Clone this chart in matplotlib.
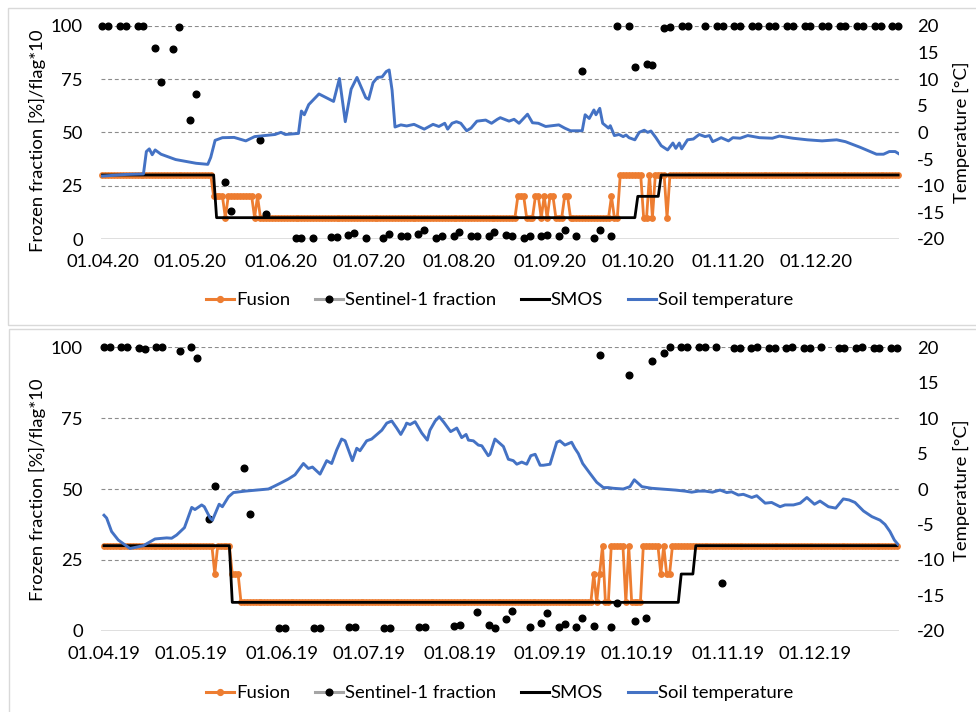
import numpy as np
import matplotlib
matplotlib.use("Agg")
import matplotlib.pyplot as plt
import matplotlib.dates as mdates
from matplotlib.lines import Line2D
from matplotlib.patches import Rectangle
import datetime as dt

plt.rcParams['font.family'] = ['Lato', 'DejaVu Sans']
plt.rcParams['axes.unicode_minus'] = False

# ---------------- data (days counted from 1 April of each year) ----------------
tick_labels_2020 = ['01.04.20', '01.05.20', '01.06.20', '01.07.20', '01.08.20',
                    '01.09.20', '01.10.20', '01.11.20', '01.12.20']
tick_labels_2019 = ['01.04.19', '01.05.19', '01.06.19', '01.07.19', '01.08.19',
                    '01.09.19', '01.10.19', '01.11.19', '01.12.19']

s1_days_2020 = [0, 2, 6, 8, 12, 14, 18, 20, 24, 26, 30, 32, 42, 44, 54, 56, 66, 68, 72, 78,
                80, 84, 86, 90, 96, 98, 102, 104, 108, 110, 114, 116, 120, 122, 126, 128, 132, 134, 138, 140,
                144, 146, 150, 152, 156, 158, 162, 164, 168, 170, 174, 176, 180, 182, 186, 188, 192, 194, 198, 200,
                206, 210, 212, 216, 218, 222, 224, 228, 230, 234, 236, 240, 242, 246, 248, 252, 254, 258, 260, 264,
                266, 270, 272]
s1_vals_2020 = [100, 100, 100, 100, 100, 100, 89.7, 73.5, 89.2, 99.2, 55.9, 68.1, 26.9, 13.0, 46.6, 11.6, 0.6, 0.5, 0.7, 1.0,
                1.1, 2.0, 2.7, 0.6, 0.6, 2.2, 1.2, 1.2, 2.5, 4.1, 0.7, 1.2, 1.2, 3.1, 1.5, 1.6, 1.2, 3.5, 1.9, 1.6,
                0.5, 1.3, 1.6, 2.1, 1.3, 4.2, 1.2, 78.9, 0.7, 4.2, 1.3, 100, 100, 80.8, 82.2, 81.7, 98.8, 99.6, 100, 100,
                100, 100, 100, 100, 100, 100, 100, 100, 100, 100, 100, 100, 100, 100, 100, 100, 100, 100, 100, 100,
                100, 100, 100]

fusion_change_days_2020 = [0, 38, 42, 43, 52, 53, 54, 142, 145, 148, 150, 151, 152, 153, 155, 158, 160,
                           174, 175, 177, 185, 187, 188, 189, 193, 194]
fusion_change_vals_2020 = [30, 20, 10, 20, 10, 20, 10, 20, 10, 20, 10, 20, 10, 20, 10, 20, 10,
                           20, 10, 30, 10, 30, 10, 30, 10, 30]
smos_change_days_2020 = [0, 39, 183, 191]
smos_change_vals_2020 = [30, 10, 20, 30]

temp_days_2020 = [0, 8, 14, 15, 16, 17, 18, 20, 25, 32, 36, 37, 38.5, 41, 45, 49, 52, 59, 61, 62.5,
                  67, 68, 69, 70.5, 74, 79, 81, 83, 85, 87, 90, 91, 92.5, 94, 95.6, 97, 98, 99, 100, 102,
                  104, 106.5, 110, 113, 115, 117, 118, 119.5, 121, 122.5, 124.5, 126, 128, 131, 133, 135, 136, 139, 140.7, 142.4,
                  145.3, 147, 149, 151.5, 156, 158, 160, 164, 165, 166.4, 168, 168.7, 170, 171, 173, 173.6, 175, 176.6, 178, 179,
                  180, 182, 183.5, 185.2, 186.4, 187.5, 189.2, 191, 193.2, 195, 196, 197.2, 198, 200, 202, 204, 206, 207.5, 208.6, 210,
                  211.5, 214, 215.5, 218, 220.6, 224.6, 229, 231.4, 236, 241, 246, 251, 254, 259, 264.6, 267, 269, 271, 272.5]
temp_vals_2020 = [-8.2, -7.9, -7.8, -3.6, -3.1, -4.2, -3.3, -4.1, -5.1, -5.8, -6.0, -4.7, -1.5, -1.0, -0.95, -1.6, -0.8, -0.4, 0.0, -0.4,
                  -0.2, 4.0, 3.3, 5.2, 7.2, 5.8, 10.1, 2.0, 8.1, 10.3, 6.5, 6.2, 9.3, 10.3, 10.4, 11.4, 11.7, 7.9, 1.0, 1.4,
                  1.2, 1.5, 0.6, 1.5, 1.1, 1.7, 0.6, 1.7, 2.0, 1.7, 0.3, 0.8, 2.1, 2.3, 1.7, 2.45, 2.75, 2.1, 2.45, 1.7,
                  3.4, 1.8, 1.7, 1.1, 1.4, 0.8, 0.3, 0.3, 3.3, 2.6, 4.2, 3.3, 4.5, 1.7, 0.8, 1.25, -0.6, -0.4, -0.8, -0.5,
                  -1.0, -1.4, 0.0, 0.4, 0.0, 0.25, -1.0, -2.5, -3.3, -2.0, -3.0, -2.0, -3.1, -1.4, -1.25, -0.4, -0.8, -0.6, -1.75, -1.4,
                  -1.0, -1.6, -1.0, -1.1, -0.6, -1.0, -1.1, -0.7, -1.1, -1.4, -1.6, -1.4, -1.75, -2.8, -4.1, -4.1, -3.6, -3.6, -4.1]

s1_days_2019 = [0, 2, 6, 8, 12, 14, 18, 20, 26, 30, 32, 36, 38, 48, 50, 60, 62, 72, 74, 84,
                86, 96, 98, 108, 110, 120, 122, 128, 132, 134, 138, 140, 146, 150, 152, 156, 158, 162, 164, 168,
                170, 174, 176, 180, 182, 186, 188, 192, 194, 198, 200, 204, 206, 210, 212, 216, 218, 222, 224, 228,
                230, 234, 236, 240, 242, 246, 252, 254, 258, 260, 264, 266, 270, 272]
s1_vals_2019 = [100, 100, 100, 100, 99.9, 99.5, 100, 100, 98.7, 100, 96.3, 39.5, 51.1, 57.3, 41.3, 1.1, 1.1, 1.1, 1.1, 1.3,
                1.3, 0.9, 1.0, 1.2, 1.2, 1.6, 2.1, 6.6, 1.9, 1.0, 4.2, 7.0, 1.2, 2.7, 6.2, 1.2, 2.4, 1.4, 4.4, 1.6,
                97.3, 1.2, 9.9, 90.2, 3.4, 4.4, 95.3, 97.9, 100, 100, 100, 100, 100, 100, 16.9, 99.6, 99.6, 99.6, 100, 99.6,
                99.6, 99.7, 100, 99.6, 99.6, 100, 99.6, 99.6, 99.8, 100, 99.6, 99.6, 99.8, 99.8]

fusion_change_days_2019 = [0, 38, 39, 44, 47, 168, 169, 170, 171, 172, 174, 179, 180, 181, 185, 191, 192, 193, 195]
fusion_change_vals_2019 = [30, 20, 30, 20, 10, 20, 10, 20, 30, 10, 30, 10, 30, 10, 30, 20, 30, 20, 30]
smos_change_days_2019 = [0, 44, 198, 203]
smos_change_vals_2019 = [30, 10, 20, 30]

temp_days_2019 = [0, 0.9, 2.6, 4.9, 8.9, 11.2, 13.5, 17.5, 21.5, 23.2, 24.9, 27.6, 30.1, 31.2, 33.5, 34.4, 36.4, 37.2, 39.5, 40.6,
                  42.7, 44.4, 48.4, 56.4, 58.1, 60.4, 63.2, 65.5, 68.4, 70.1, 71.5, 74.1, 76.4, 78.1, 79.8, 81.5, 82.7, 85.2, 86.7, 87.8,
                  90.1, 91.8, 93.6, 95.3, 97, 98.7, 100.4, 101.8, 103.3, 103.8, 105, 106.7, 109, 110.9, 111.8, 113.6, 115, 116.6, 118.9, 121,
                  122.7, 124.2, 125, 126.7, 128.4, 129.6, 131.8, 132.4, 134.1, 137, 138.7, 140.4, 141.6, 143.3, 145, 146.4, 147.9, 149.6, 150.7, 153,
                  155.3, 156.4, 158.1, 160.4, 161.5, 162.7, 164.2, 166.7, 169, 171.3, 173, 174.7, 178.1, 180.4, 181.9, 182.7, 184.5, 187.9, 191.3, 195.9,
                  199.3, 201.6, 203.9, 206.2, 208.7, 211.3, 213.6, 215.3, 217.6, 219.3, 222.2, 223.9, 226.8, 229, 231.9, 233.6, 236.5, 238.8, 241.1, 243.7,
                  245.6, 248.5, 251, 253.6, 255.6, 257.6, 260.5, 263.4, 266.2, 267.9, 269.6, 271.1, 272.3]
temp_vals_2019 = [-3.7, -4.1, -6.0, -7.2, -8.4, -8.2, -8.0, -7.05, -6.9, -6.95, -6.5, -5.45, -2.6, -2.9, -2.25, -2.5, -4.1, -4.4, -2.15, -2.5,
                  -1.1, -0.5, -0.3, 0.0, 0.33, 0.8, 1.4, 2.0, 3.6, 2.9, 3.1, 2.1, 4.0, 3.6, 5.5, 7.05, 6.8, 4.0, 5.75, 5.4,
                  6.8, 7.05, 7.7, 8.3, 9.3, 9.6, 8.6, 7.7, 8.8, 9.3, 9.1, 9.5, 7.9, 6.9, 8.3, 9.6, 10.2, 9.4, 8.1, 8.6,
                  7.25, 7.7, 6.9, 6.8, 6.2, 6.1, 4.7, 4.9, 7.05, 6.0, 4.2, 4.0, 3.5, 3.8, 3.5, 4.7, 4.9, 3.35, 3.35, 3.5,
                  6.6, 6.8, 6.2, 6.6, 5.75, 5.0, 3.6, 2.2, 0.95, 0.2, 0.2, 0.1, 0.0, 0.33, 1.3, 1.0, 0.33, 0.1, 0.0, -0.15,
                  -0.3, -0.45, -0.3, -0.3, -0.45, -0.15, -0.5, -0.4, -0.85, -0.75, -1.2, -0.95, -2.0, -1.9, -2.5, -2.25, -2.25, -2.0, -1.2, -2.15,
                  -1.7, -2.5, -2.7, -1.4, -1.55, -1.9, -3.1, -3.9, -4.4, -5.0, -6.0, -7.2, -7.8]

last_day = 272

# ---------------- styling ----------------
W, H = 976, 712
ORANGE = '#ED7D31'
BLUE = '#4472C4'
GRID = '#8C8C8C'
FS = 13.3

fig = plt.figure(figsize=(W / 100, H / 100), dpi=100)


def px_axes(l, t, r, b):
    return fig.add_axes([l / W, 1 - b / H, (r - l) / W, (b - t) / H])


def expand(change_days, change_vals, n):
    runs = np.diff(list(change_days) + [n + 1])
    return np.repeat(change_vals, runs)


def panel(rect, year, xlim_days, tick_labels, s1d, s1v, fdays, fvals, sdays, svals, tdays, tvals,
          ylab_left_y, ylab_right_y, legend_y):
    base = mdates.date2num(dt.datetime(year, 4, 1))
    ax = px_axes(*rect)
    ax.set_facecolor('none')
    daily = base + np.arange(last_day + 1)
    fusion = expand(fdays, fvals, last_day)
    smos = expand(sdays, svals, last_day)

    # grid
    for v in [25, 50, 75, 100]:
        ax.axhline(v, color=GRID, lw=0.8, ls=(0, (3.5, 2.5)), zorder=0.5)
    ax.axhline(0, color='#D9D9D9', lw=1.2, zorder=0.5)

    ax.plot(daily, fusion, color=ORANGE, lw=2.0, marker='o', ms=3.9, mec=ORANGE, mfc=ORANGE, zorder=2,
            clip_on=False)
    ax.plot(base + np.array(s1d), s1v, ls='none', marker='o', ms=4.8, color='black', zorder=3, clip_on=False)
    ax.plot(daily, smos, color='black', lw=2.0, zorder=4, clip_on=False)

    ax.set_ylim(0, 100)
    ax.set_xlim(base + xlim_days[0], base + xlim_days[1])
    ax.set_yticks([0, 25, 50, 75, 100])
    tick_pos = [mdates.date2num(dt.datetime(year, m, 1)) for m in range(4, 13)]
    ax.set_xticks(tick_pos)
    ax.set_xticklabels(tick_labels)
    ax.tick_params(axis='x', length=0, pad=11, labelsize=FS)
    ax.tick_params(axis='y', length=0, pad=13, labelsize=FS)
    for s in ax.spines.values():
        s.set_visible(False)

    ax2 = ax.twinx()
    ax2.plot(base + np.array(tdays), tvals, color=BLUE, lw=2.1, zorder=5)
    ax2.set_ylim(-20, 20)
    ax2.set_yticks(np.arange(-20, 21, 5))
    ax2.tick_params(axis='y', length=0, pad=13, labelsize=FS)
    for s in ax2.spines.values():
        s.set_visible(False)
    ax2.set_xlim(ax.get_xlim())

    fig.text(37 / W, 1 - ylab_left_y / H, 'Frozen fraction [%]/flag*10', rotation=90,
             ha='center', va='center', fontsize=FS)
    fig.text(961 / W, 1 - ylab_right_y / H, 'Temperature [°C]', rotation=90,
             ha='center', va='center', fontsize=FS)

    handles = [
        Line2D([], [], color=ORANGE, lw=2.2, marker='o', ms=4.2, mfc=ORANGE, mec=ORANGE),
        Line2D([], [], color='#A5A5A5', lw=2.2, marker='o', ms=4.8, mfc='black', mec='black'),
        Line2D([], [], color='black', lw=2.2),
        Line2D([], [], color=BLUE, lw=2.2),
    ]
    labels = ['Fusion', 'Sentinel-1 fraction', 'SMOS', 'Soil temperature']
    fig.legend(handles, labels, loc='center', bbox_to_anchor=(499.5 / W, 1 - legend_y / H), ncol=4,
               frameon=False, fontsize=FS, handlelength=1.5, handletextpad=0.12, columnspacing=1.35)


# panel borders
fig.patches.append(Rectangle((7.5 / W, 1 - 325 / H), (W + 5 - 7.5) / W, (325 - 7.5) / H,
                             transform=fig.transFigure, fill=False, ec='#D9D9D9', lw=1))
fig.patches.append(Rectangle((8.5 / W, -0.01), (W + 5 - 8.5) / W, (712 - 328.5) / H + 0.01,
                             transform=fig.transFigure, fill=False, ec='#D9D9D9', lw=1))

panel((101, 25.7, 899, 239), 2020, (-0.51, 272.3), tick_labels_2020,
      s1_days_2020, s1_vals_2020, fusion_change_days_2020, fusion_change_vals_2020,
      smos_change_days_2020, smos_change_vals_2020, temp_days_2020, temp_vals_2020,
      141, 132.5, 300)
panel((101, 347.3, 899, 630.7), 2019, (-1.03, 272.7), tick_labels_2019,
      s1_days_2019, s1_vals_2019, fusion_change_days_2019, fusion_change_vals_2019,
      smos_change_days_2019, smos_change_vals_2019, temp_days_2019, temp_vals_2019,
      490, 490, 693)

fig.savefig('out.png', dpi=100)
